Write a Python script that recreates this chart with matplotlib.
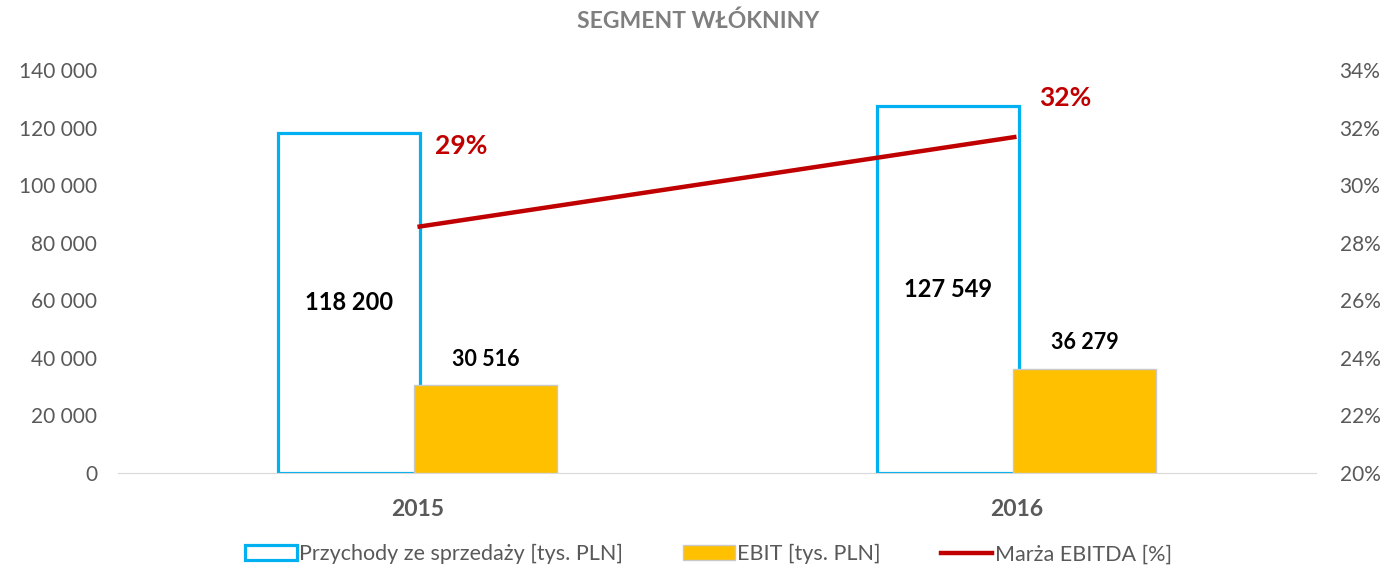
import numpy as np
import matplotlib.pyplot as plt
from matplotlib.patches import Patch
from matplotlib.lines import Line2D
from matplotlib.ticker import FuncFormatter

plt.rcParams['font.family'] = ['Lato', 'DejaVu Sans']

# Data
years = ['2015', '2016']
revenue = [118200, 127549]      # Przychody ze sprzedaży [tys. PLN]
ebit = [30516, 36279]           # EBIT [tys. PLN]
margin = [0.2855, 0.3168]       # Marża EBITDA
margin_labels = ['29%', '32%']

blue = '#00B0F0'
gold = '#FFC000'
red = '#C00000'
grey = '#595959'

fig = plt.figure(figsize=(13.86, 5.69), dpi=100)
ax = fig.add_axes([0.0851, 0.1687, 0.8644, 0.7083])
x = np.arange(len(years))
w = 0.238

ax.bar(x - 0.114, revenue, w, facecolor='white', edgecolor=blue, linewidth=2.3, zorder=2)
ax.bar(x + 0.114, ebit, w, facecolor=gold, edgecolor='#c8c8c8', linewidth=1, zorder=3)

for xi, v in zip(x, revenue):
    ax.text(xi - 0.114, v / 2, f'{v:,}'.replace(',', ' '), ha='center', va='center',
            fontsize=17, fontweight='bold', color='black', zorder=5)
for xi, v in zip(x, ebit):
    ax.text(xi + 0.114, v + 9000, f'{v:,}'.replace(',', ' '), ha='center', va='center',
            fontsize=15.5, fontweight='bold', color='black', zorder=5)

ax.set_xlim(-0.5, len(years) - 0.5)
ax.set_ylim(0, 140000)
ax.set_yticks(np.arange(0, 140001, 20000))
ax.yaxis.set_major_formatter(FuncFormatter(lambda v, p: f'{int(v):,}'.replace(',', ' ')))
ax.set_xticks(x)
ax.set_xticklabels(years, fontsize=16.5, fontweight='bold', color=grey)
ax.tick_params(axis='y', labelsize=15, labelcolor=grey, length=0, pad=15)
ax.tick_params(axis='x', length=0, pad=19)
for s in ['top', 'right', 'left']:
    ax.spines[s].set_visible(False)
ax.spines['bottom'].set_color('#d9d9d9')

ax2 = ax.twinx()
ax2.plot(x, margin, color=red, linewidth=3.2, solid_capstyle='butt', zorder=4)
label_y = [0.3136, 0.3303]
label_dx = [0.03, 0.037]
for xi, ly, dx, t in zip(x, label_y, label_dx, margin_labels):
    ax2.text(xi + dx, ly, t, ha='left', va='center', fontsize=19, fontweight='bold', color=red)
ax2.set_ylim(0.20, 0.34)
ax2.set_yticks(np.arange(0.20, 0.3401, 0.02))
ax2.yaxis.set_major_formatter(FuncFormatter(lambda v, p: f'{v*100:.0f}%'))
ax2.tick_params(axis='y', labelsize=15, labelcolor=grey, length=0, pad=17)
for s in ['top', 'right', 'left', 'bottom']:
    ax2.spines[s].set_visible(False)

fig.text(0.504, 0.962, 'SEGMENT WŁÓKNINY', ha='center', va='center',
         fontsize=16.5, fontweight='bold', color='#7f7f7f')

handles = [
    Patch(facecolor='white', edgecolor=blue, linewidth=2.3),
    Patch(facecolor=gold, edgecolor='#c8c8c8', linewidth=1),
    Line2D([0], [0], color=red, linewidth=3.2),
]
labels = ['Przychody ze sprzedaży [tys. PLN]', 'EBIT [tys. PLN]', 'Marża EBITDA [%]']
leg = fig.legend(handles, labels, loc='center', bbox_to_anchor=(0.511, 0.026), ncol=3,
                 frameon=False, fontsize=15.5, handlelength=2.4, handletextpad=0.1,
                 columnspacing=2.8)
for t in leg.get_texts():
    t.set_color(grey)

fig.savefig('out.png', dpi=100)
